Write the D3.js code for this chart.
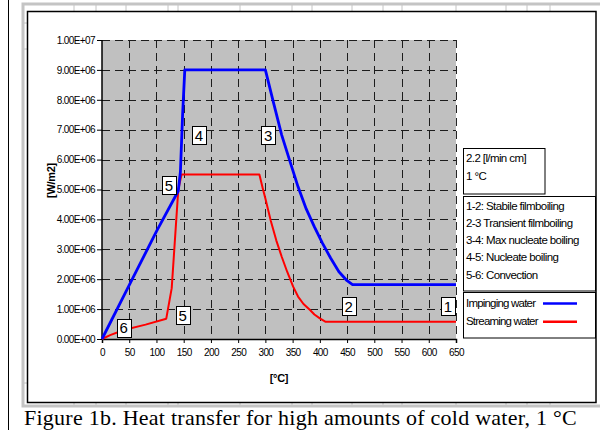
<!DOCTYPE html>
<html>
<head>
<meta charset="utf-8">
<script src="https://cdn.jsdelivr.net/npm/d3@7"></script>
<style>
  html, body { margin: 0; padding: 0; background: #fff; }
  svg { display: block; }
  .nar { font-family: "Liberation Sans Narrow", "Arial Narrow", "Liberation Sans", Arial, sans-serif; }
</style>
</head>
<body>
<svg id="chart" width="600" height="430"></svg>
<script>
// ---------- data ----------
const xTicks = [0, 50, 100, 150, 200, 250, 300, 350, 400, 450, 500, 550, 600, 650];
const yTicks = [0, 1e6, 2e6, 3e6, 4e6, 5e6, 6e6, 7e6, 8e6, 9e6, 1e7];

const impingingT = [0, 50, 100, 140, 144, 148, 152, 300, 315, 330, 345, 360, 375, 390, 405, 420, 435, 450, 460, 650];
const impingingQ = [0, 1.8e6, 3.6e6, 4.95e6, 5.6e6, 7.5e6, 9.0e6, 9.0e6, 7.9e6, 6.82e6, 5.95e6, 5.09e6, 4.35e6, 3.75e6, 3.2e6, 2.7e6, 2.25e6, 1.95e6, 1.82e6, 1.82e6];

const streamingT = [0, 15, 40, 80, 118, 128, 140, 146, 289, 295, 300, 310, 320, 330, 340, 351, 360, 370, 382, 390, 400, 410, 650];
const streamingQ = [0, 0.13e6, 0.3e6, 0.48e6, 0.68e6, 1.7e6, 4.98e6, 5.5e6, 5.5e6, 5.05e6, 4.7e6, 3.95e6, 3.3e6, 2.75e6, 2.25e6, 1.75e6, 1.42e6, 1.17e6, 0.97e6, 0.82e6, 0.69e6, 0.58e6, 0.58e6];

const markerText = ["1", "2", "3", "4", "5", "5", "6"];
const markerT = [635, 453, 305, 178, 123, 148, 40];
const markerQ = [1.1e6, 1.1e6, 6.82e6, 6.82e6, 5.15e6, 0.8e6, 0.37e6];

const conditionLines = ["2.2 [l/min cm]", "1 °C"];
const regimeLines = ["1-2: Stabile filmboiling", "2-3 Transient filmboiling", "3-4: Max nucleate boiling", "4-5: Nucleate boiling", "5-6: Convection"];
const seriesNames = ["Impinging water", "Streaming water"];
const seriesColors = ["#0000ff", "#ff0000"];

const xLabel = "[°C]";
const yLabel = "[W/m2]";
const caption = "Figure 1b. Heat transfer for high amounts of cold water, 1 °C";

// ---------- drawing ----------
const svg = d3.select("#chart");
svg.append("rect").attr("width", 600).attr("height", 430).attr("fill", "#fff");

// page border line
svg.append("line").attr("x1", 8.5).attr("x2", 8.5).attr("y1", 0).attr("y2", 430).attr("stroke", "#000").attr("stroke-width", 1);

// spreadsheet frame behind the chart
const frame = svg.append("g");
frame.append("rect").attr("x", 23).attr("y", 4).attr("width", 580).attr("height", 402)
  .attr("fill", "#fff").attr("stroke", "#c4c4c4").attr("stroke-width", 3);
[74, 96, 126, 168, 178, 240, 292, 312, 352, 383, 402, 456, 506, 527, 550].forEach(px => {
  frame.append("line").attr("x1", px).attr("x2", px).attr("y1", 4).attr("y2", 11).attr("stroke", "#c4c4c4");
  frame.append("line").attr("x1", px).attr("x2", px).attr("y1", 402).attr("y2", 407).attr("stroke", "#c4c4c4");
});
[23, 49, 383].forEach(py => {
  frame.append("line").attr("x1", 22).attr("x2", 27).attr("y1", py).attr("y2", py).attr("stroke", "#c4c4c4");
});

// chart area
svg.append("rect").attr("x", 27.5).attr("y", 11.5).attr("width", 568.5).attr("height", 391)
  .attr("fill", "#fff").attr("stroke", "#000").attr("stroke-width", 1.5);

const x = d3.scaleLinear().domain([0, 650]).range([102, 456]);
const y = d3.scaleLinear().domain([0, 1e7]).range([339, 40]);

// plot background
svg.append("rect").attr("x", x(0)).attr("y", y(1e7)).attr("width", x(650) - x(0)).attr("height", y(0) - y(1e7))
  .attr("fill", "#c0c0c0");

// gridlines
const grid = svg.append("g").attr("stroke", "#000").attr("stroke-width", 1).attr("stroke-dasharray", "8,5").attr("opacity", 0.85);
grid.selectAll("line.h").data(yTicks.filter(d => d > 0)).join("line")
  .attr("x1", x(0)).attr("x2", x(650)).attr("y1", d => Math.round(y(d)) + 0.5).attr("y2", d => Math.round(y(d)) + 0.5);
grid.selectAll("line.v").data(xTicks.filter(d => d > 0)).join("line")
  .attr("y1", y(1e7)).attr("y2", y(0)).attr("x1", d => Math.round(x(d)) + 0.5).attr("x2", d => Math.round(x(d)) + 0.5);

const fmt = v => {
  if (v === 0) return "0.00E+00";
  const e = Math.floor(Math.log10(v));
  return (v / Math.pow(10, e)).toFixed(2) + "E+" + String(e).padStart(2, "0");
};

// axes
const yAxis = svg.append("g").attr("transform", `translate(${x(0)},0)`)
  .call(d3.axisLeft(y).tickValues(yTicks).tickFormat(fmt).tickSize(5).tickPadding(2));
const xAxis = svg.append("g").attr("transform", `translate(0,${y(0)})`)
  .call(d3.axisBottom(x).tickValues(xTicks).tickFormat(d3.format("d")).tickSize(4).tickPadding(6));
[xAxis, yAxis].forEach(a => {
  a.select(".domain").attr("stroke", "#000").attr("stroke-width", 1.5);
  a.selectAll(".tick line").attr("stroke", "#000");
  a.selectAll("text").attr("class", "nar").attr("font-size", 10).attr("letter-spacing", -0.6).attr("fill", "#000");
});
yAxis.select(".domain").attr("d", `M0,${y(0)}V${y(1e7)}`);

// axis labels
svg.append("text").attr("class", "nar").attr("x", (x(0) + x(650)) / 2).attr("y", 382)
  .attr("text-anchor", "middle").attr("font-size", 11).attr("font-weight", "bold").attr("letter-spacing", -0.3).text(xLabel);
svg.append("text").attr("class", "nar").attr("transform", `translate(55,${y(5.3e6)}) rotate(-90)`)
  .attr("text-anchor", "middle").attr("font-size", 11).attr("font-weight", "bold").attr("letter-spacing", -0.3).text(yLabel);

// series
const line = d3.line().x(d => x(d[0])).y(d => y(d[1]));
const series = [
  { t: streamingT, q: streamingQ, c: seriesColors[1], w: 2 },
  { t: impingingT, q: impingingQ, c: seriesColors[0], w: 2.8 }
];
series.forEach(s => {
  svg.append("path").datum(s.t.map((t, i) => [t, s.q[i]]))
    .attr("d", line).attr("fill", "none").attr("stroke", s.c).attr("stroke-width", s.w).attr("stroke-linejoin", "round");
});

// point markers (boxed numbers)
markerText.forEach((m, i) => {
  const cx = x(markerT[i]), cy = y(markerQ[i]);
  svg.append("rect").attr("x", Math.round(cx - 7) + 0.5).attr("y", Math.round(cy - 9) + 0.5).attr("width", 14).attr("height", 18)
    .attr("fill", "#fff").attr("stroke", "#000").attr("stroke-width", 1);
  svg.append("text").attr("class", "nar").attr("x", cx).attr("y", cy + 5.5)
    .attr("text-anchor", "middle").attr("font-size", 15).text(m);
});

// legend boxes
const lg = svg.append("g").attr("class", "nar").attr("font-size", 11.5).attr("letter-spacing", -0.6);
lg.append("rect").attr("x", 463.5).attr("y", 148.5).attr("width", 81.5).attr("height", 45.5).attr("fill", "#fff").attr("stroke", "#000");
conditionLines.forEach((t, i) => lg.append("text").attr("x", 466).attr("y", 162 + i * 17.5).text(t));

lg.append("rect").attr("x", 463.5).attr("y", 196.5).attr("width", 132).attr("height", 94.5).attr("fill", "#fff").attr("stroke", "#000");
regimeLines.forEach((t, i) => lg.append("text").attr("x", 466).attr("y", 209.5 + i * 17.3).text(t));

lg.append("rect").attr("x", 463.5).attr("y", 292.5).attr("width", 132).attr("height", 45.5).attr("fill", "#fff").attr("stroke", "#000");
seriesNames.forEach((t, i) => {
  lg.append("text").attr("x", 466).attr("y", 307 + i * 18.3).attr("letter-spacing", -0.8).text(t);
  lg.append("line").attr("x1", 543).attr("x2", 577).attr("y1", 303.5 + i * 18.3).attr("y2", 303.5 + i * 18.3)
    .attr("stroke", seriesColors[i]).attr("stroke-width", 2.5);
});

// caption
svg.append("text").attr("x", 24).attr("y", 424.5)
  .attr("font-family", "'Liberation Serif', 'Times New Roman', serif").attr("font-size", 22)
  .attr("letter-spacing", 0.25).attr("fill", "#000").text(caption);
</script>
</body>
</html>
